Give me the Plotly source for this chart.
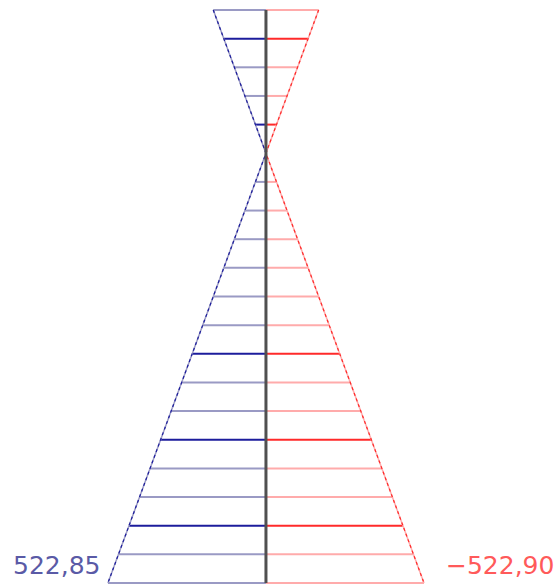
import plotly.graph_objects as go

# stations along the member (top -> bottom)
stations = [0, 1, 2, 3, 4, 5, 6, 7, 8, 9, 10, 11, 12, 13, 14, 15, 16, 17, 18, 19, 20]
# envelope values
max_vals = [-174.3, -139.4, -104.6, -69.7, -34.9, 0.0, 34.9, 69.7, 104.6, 139.4, 174.3,
            209.1, 244.0, 278.8, 313.7, 348.6, 383.4, 418.3, 453.1, 488.0, 522.85]
min_vals = [174.3, 139.4, 104.6, 69.7, 34.9, 0.0, -34.9, -69.7, -104.6, -139.4, -174.3,
            -209.1, -244.0, -278.8, -313.7, -348.6, -383.4, -418.3, -453.1, -488.0, -522.90]
strong = [1, 4, 12, 15, 18]  # stations drawn with darker hatch
max_label = "522,85"
min_label = "\u2212522,90"

BLUE_D, BLUE_L = "#1c1c9c", "#9a9ac4"
RED_D, RED_L = "#ff2a2a", "#ffabab"

fig = go.Figure()


def hatch(xs, ys, idx):
    hx, hy = [], []
    for i in idx:
        hx += [0, xs[i], None]
        hy += [ys[i], ys[i], None]
    return hx, hy


for vals, sign, dark, light in [(max_vals, -1, BLUE_D, BLUE_L), (min_vals, 1, RED_D, RED_L)]:
    xs = [sign * abs(v) for v in vals]
    weak_idx = [i for i in range(len(stations)) if i not in strong]
    hx, hy = hatch(xs, stations, weak_idx)
    fig.add_trace(go.Scatter(x=hx, y=hy, mode="lines", line=dict(color=light, width=2),
                             hoverinfo="skip"))
    hx, hy = hatch(xs, stations, strong)
    fig.add_trace(go.Scatter(x=hx, y=hy, mode="lines", line=dict(color=dark, width=2),
                             hoverinfo="skip"))
    # outline
    fig.add_trace(go.Scatter(x=xs, y=stations, mode="lines", line=dict(color=light, width=1.5),
                             hoverinfo="skip"))
    fig.add_trace(go.Scatter(x=xs, y=stations, mode="lines",
                             line=dict(color=dark, width=1.2, dash="dot"), hoverinfo="skip"))

# member axis
fig.add_trace(go.Scatter(x=[0, 0], y=[stations[0], stations[-1]], mode="lines",
                         line=dict(color="#505050", width=3), hoverinfo="skip"))

fig.add_annotation(x=-abs(max_vals[-1]), y=19.4, xref="x", yref="y", text=max_label,
                   showarrow=False, xanchor="right", yanchor="middle", xshift=-6,
                   font=dict(family="DejaVu Sans", size=25, color="#5a5aa6"))
fig.add_annotation(x=abs(min_vals[-1]), y=19.4, xref="x", yref="y", text=min_label,
                   showarrow=False, xanchor="left", yanchor="middle", xshift=20,
                   font=dict(family="DejaVu Sans", size=25, color="#ff5a5a"))

fig.update_layout(
    width=557, height=586,
    margin=dict(l=0, r=0, t=0, b=0),
    plot_bgcolor="white", paper_bgcolor="white",
    showlegend=False,
    xaxis=dict(range=[-880, 963], visible=False),
    yaxis=dict(range=[20.105, -0.349], visible=False),
)

fig.write_html("out.html", config={"displayModeBar": False},
               post_script="document.body.style.margin='0';document.body.style.overflow='hidden';")
